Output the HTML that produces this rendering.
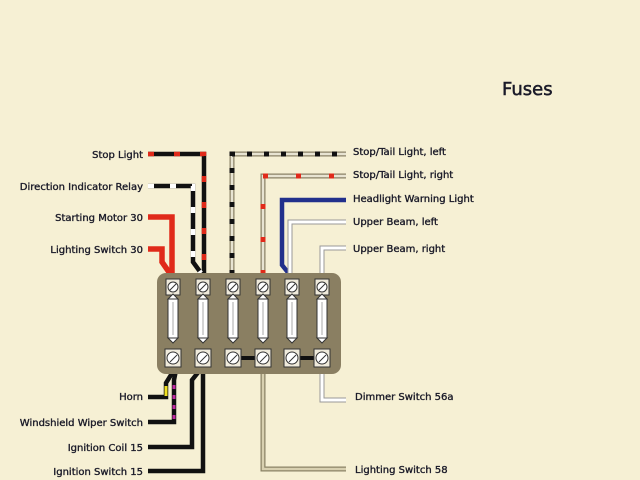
<!DOCTYPE html>
<html><head><style>
html,body{margin:0;padding:0;background:#f6f0d4;}
svg{display:block}
text{font-family:"DejaVu Sans","Liberation Sans",sans-serif;font-size:10px;fill:#1a1a28;stroke:#1a1a28;stroke-width:0.35px;}
</style></head><body>
<svg width="640" height="480" viewBox="0 0 640 480">
<rect width="640" height="480" fill="#f6f0d4"/>
<text x="502" y="95" style="font-size:18px;stroke-width:0.5px">Fuses</text>

<g text-anchor="end">
<text x="143" y="158">Stop Light</text>
<text x="143" y="190">Direction Indicator Relay</text>
<text x="143" y="221">Starting Motor 30</text>
<text x="143" y="253">Lighting Switch 30</text>
<text x="143" y="400">Horn</text>
<text x="143" y="426">Windshield Wiper Switch</text>
<text x="143" y="451">Ignition Coil 15</text>
<text x="143" y="475">Ignition Switch 15</text>
</g>
<text x="353" y="155">Stop/Tail Light, left</text>
<text x="353" y="178">Stop/Tail Light, right</text>
<text x="353" y="202">Headlight Warning Light</text>
<text x="353" y="225">Upper Beam, left</text>
<text x="353" y="252">Upper Beam, right</text>
<text x="355" y="400">Dimmer Switch 56a</text>
<text x="355" y="473">Lighting Switch 58</text>

<g fill="none" stroke-linejoin="miter">
<polyline points="148,154 204,154 204,275" stroke="#111" stroke-width="4.5"/>
<polyline points="148,154 204,154 204,275" stroke="#e02a1a" stroke-width="4.5" stroke-dasharray="6,20"/>
<polyline points="148,186 193,186 193,262 201,273" stroke="#111" stroke-width="4.5"/>
<polyline points="148,186 193,186 193,262 201,273" stroke="#fff" stroke-width="4.5" stroke-dasharray="6,16"/>
<polyline points="148,217 172,217 172,275" stroke="#e02a1a" stroke-width="5.5"/>
<polyline points="148,249 162,249 162,262 171,275" stroke="#e02a1a" stroke-width="5.5"/>
<polyline points="232,275 232,154 346,154" stroke="#8a8266" stroke-width="5"/>
<polyline points="232,275 232,154 346,154" stroke="#e8e4d2" stroke-width="2.5"/>
<polyline points="232,275 232,154 346,154" stroke="#111" stroke-width="5" stroke-dasharray="5,12"/>
<polyline points="263,275 263,176 346,176" stroke="#8a8266" stroke-width="5"/>
<polyline points="263,275 263,176 346,176" stroke="#e8e4d2" stroke-width="2.5"/>
<polyline points="263,275 263,176 346,176" stroke="#e02a1a" stroke-width="5" stroke-dasharray="5,28"/>
<polyline points="290,275 282,265 282,200 346,200" stroke="#22308c" stroke-width="4.5"/>
<polyline points="290,275 290,222 346,222" stroke="#999" stroke-width="5"/>
<polyline points="290,275 290,222 346,222" stroke="#fff" stroke-width="3"/>
<polyline points="322,275 322,248 346,248" stroke="#999" stroke-width="5"/>
<polyline points="322,275 322,248 346,248" stroke="#fff" stroke-width="3"/>
<polyline points="148,397 166,397 166,383 174,370" stroke="#111" stroke-width="4.5"/>
<polyline points="148,422 174,422 174,380 176,370" stroke="#111" stroke-width="4.5"/>
<polyline points="174,385 174,420" stroke="#c02aa0" stroke-width="3" stroke-dasharray="4,6"/>
<line x1="166" y1="386" x2="166" y2="396" stroke="#f0e020" stroke-width="3"/>
<polyline points="148,447 192,447 192,380 200,370" stroke="#111" stroke-width="4.5"/>
<polyline points="148,471 203,471 203,370" stroke="#111" stroke-width="4.5"/>
<polyline points="263,370 263,469 346,469" stroke="#8a8266" stroke-width="5"/>
<polyline points="263,370 263,469 346,469" stroke="#d8d0b0" stroke-width="2.5"/>
<polyline points="322,370 322,400 346,400" stroke="#999" stroke-width="5"/>
<polyline points="322,370 322,400 346,400" stroke="#fff" stroke-width="3"/>
</g>

<rect x="157" y="273" width="184" height="101" rx="9" fill="#8a7f62"/>
<line x1="233" y1="358" x2="263" y2="358" stroke="#111" stroke-width="4"/>
<line x1="292" y1="358" x2="322" y2="358" stroke="#111" stroke-width="4"/>
<g stroke="#333" stroke-width="1">
<g id="c1" transform="translate(173,0)"><rect x="-7" y="279" width="14" height="16" fill="#efeadb"/><circle cx="0" cy="287" r="5" fill="#fff"/><line x1="-3" y1="290" x2="3" y2="284"/><path d="M-5 299 L0 294 L5 299 Z" fill="#fff"/><rect x="-5" y="299" width="10" height="39" fill="#fff"/><line x1="0" y1="302" x2="0" y2="335" stroke="#aaa"/><path d="M-5 338 L0 343 L5 338 Z" fill="#fff"/><rect x="-8" y="349" width="16" height="18" fill="#efeadb"/><circle cx="0" cy="358" r="6" fill="#fff"/><line x1="-3" y1="362" x2="4" y2="355"/></g>
<use href="#c1" x="30"/>
<use href="#c1" x="60"/>
<use href="#c1" x="90"/>
<use href="#c1" x="119"/>
<use href="#c1" x="149"/>
</g>
</svg>
</body></html>
